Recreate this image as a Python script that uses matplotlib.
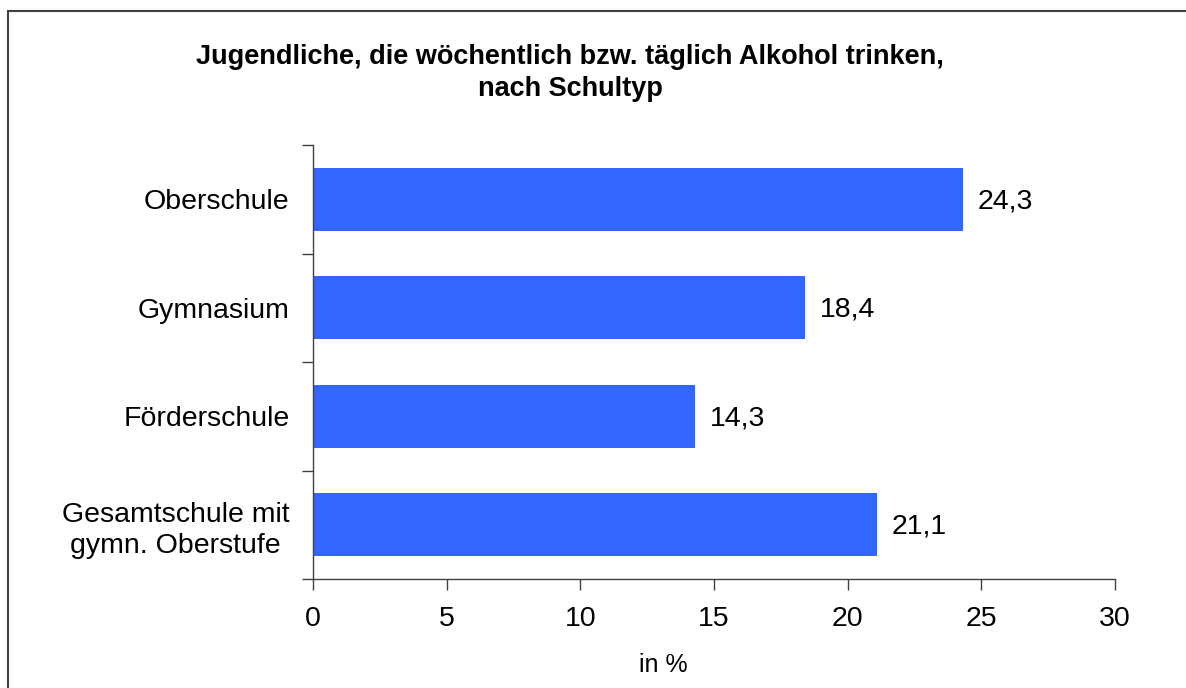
import matplotlib.pyplot as plt
from matplotlib.patches import Rectangle

plt.rcParams['font.family'] = ['Liberation Sans', 'DejaVu Sans']

# data, top to bottom as in the chart
schools = ['Oberschule', 'Gymnasium', 'Förderschule', 'Gesamtschule mit\ngymn. Oberstufe']
values = [24.3, 18.4, 14.3, 21.1]
value_labels = ['24,3', '18,4', '14,3', '21,1']
x_ticks = [0, 5, 10, 15, 20, 25, 30]

W, H = 1186, 688
fig = plt.figure(figsize=(W / 100, H / 100), dpi=100)
ax = fig.add_axes([313 / W, 1 - 579 / H, (1115 - 313) / W, (579 - 145) / H])

pos = list(range(len(schools)))[::-1]
ax.barh(pos, values, height=0.58, color='#3366FF', zorder=2)
for p, v, lab in zip(pos, values, value_labels):
    ax.text(v + 0.55, p - 0.02, lab, va='center', ha='left', fontsize=20.5)

ax.set_xlim(0, 30)
ax.set_ylim(-0.5, len(schools) - 0.5)
ax.set_xticks(x_ticks)
ax.set_xticklabels([str(t) for t in x_ticks], fontsize=20.5)
ax.set_yticks(pos)
ax.set_yticklabels(schools, fontsize=20.5, multialignment='center', linespacing=1.25)
ax.set_yticks([i - 0.5 for i in range(len(schools) + 1)], minor=True)
ax.tick_params(axis='y', which='major', length=0, pad=17)
ax.tick_params(axis='y', which='minor', length=8, width=1, direction='out', color='#404040')
ax.tick_params(axis='x', which='major', length=8, width=1, direction='out', color='#404040', pad=11.5)
for s in ['top', 'right']:
    ax.spines[s].set_visible(False)
for s in ['left', 'bottom']:
    ax.spines[s].set_color('#404040')
    ax.spines[s].set_linewidth(1)

fig.text(663 / W, 1 - 665 / H, 'in %', ha='center', va='center', fontsize=18)

fig.text(570 / W, 1 - 73 / H, 'Jugendliche, die wöchentlich bzw. täglich Alkohol trinken,\nnach Schultyp',
         ha='center', va='center', fontsize=19.5, fontweight='bold', linespacing=1.28)

# outer frame (only left and top edges visible)
fig.patches.append(Rectangle((7.5 / W, -0.1), 1.2, 1 - 10.5 / H + 0.1, transform=fig.transFigure,
                             fill=False, edgecolor='#404040', linewidth=1.5))

fig.savefig('out.png', dpi=100)
